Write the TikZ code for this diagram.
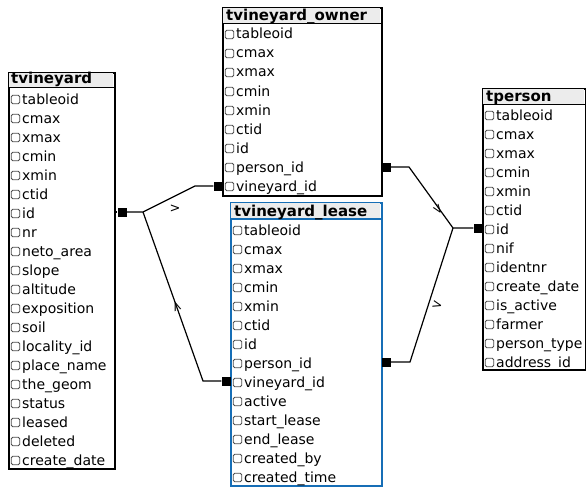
\documentclass[tikz,border=0pt]{standalone}
\usepackage{fontspec}
\setmainfont{DejaVu Sans}
\definecolor{leaseblue}{RGB}{22,110,182}
\definecolor{hdrgray}{RGB}{236,236,236}
\tikzset{
 box/.style={draw=black, line width=1.8pt, fill=white, inner sep=0, anchor=north west},
 chk/.style={draw=black!70, line width=0.8pt, rounded corners=1.5pt, minimum size=8.5pt, inner sep=0},
 fld/.style={anchor=base west, inner sep=0, font=\fontsize{14}{16}\selectfont},
 ttl/.style={anchor=base west, inner sep=0, font=\fontsize{15}{16}\selectfont\bfseries},
 conn/.style={fill=black, minimum size=9pt, inner sep=0},
 rel/.style={line width=1.2pt},
 mk/.style={font=\fontsize{13}{13}\selectfont, inner sep=0}
}
\begin{document}
\begin{tikzpicture}[x=1pt,y=-1pt]
\useasboundingbox (0,0) rectangle (586,487);
% ---------- tvineyard ----------
\node[box, minimum width=106pt, minimum height=396pt] (V) at (8,72) {};
\fill[hdrgray] (8.9,72.9) rectangle (113.1,87);
\draw[line width=1pt] (8,87) -- (114,87);
\node[ttl] (Vt) at (11,84) {tvineyard};
\foreach \f [count=\i from 0] in {tableoid,cmax,xmax,cmin,xmin,ctid,id,nr,neto\_area,slope,altitude,exposition,soil,locality\_id,place\_name,the\_geom,status,leased,deleted,create\_date}{
  \node[chk] (Vc\i) at (15.5,{99.5+19*\i}) {};
  \node[fld] (Vf\i) at (22,{104+19*\i}) {\f};
}
% ---------- tvineyard_owner ----------
\node[box, minimum width=159pt, minimum height=188pt] (O) at (222,7) {};
\fill[hdrgray] (222.9,7.9) rectangle (380.1,24);
\draw[line width=1pt] (222,24) -- (381,24);
\node[ttl] (Ot) at (226,21) {tvineyard\_owner};
\foreach \f [count=\i from 0] in {tableoid,cmax,xmax,cmin,xmin,ctid,id,person\_id,vineyard\_id}{
  \node[chk] (Oc\i) at (229.5,{34.5+19*\i}) {};
  \node[fld] (Of\i) at (236,{39+19*\i}) {\f};
}
% ---------- tvineyard_lease ----------
\node[box, draw=leaseblue, minimum width=151pt, minimum height=283pt] (L) at (230,202) {};
\fill[hdrgray] (230.9,202.9) rectangle (380.1,219);
\draw[line width=1.2pt, leaseblue] (230,219) -- (381,219);
\node[ttl] (Lt) at (234,216) {tvineyard\_lease};
\foreach \f [count=\i from 0] in {tableoid,cmax,xmax,cmin,xmin,ctid,id,person\_id,vineyard\_id,active,start\_lease,end\_lease,created\_by,created\_time}{
  \node[chk] (Lc\i) at (237.5,{230.5+19*\i}) {};
  \node[fld] (Lf\i) at (244,{235+19*\i}) {\f};
}
% ---------- tperson ----------
\node[box, minimum width=103pt, minimum height=281pt] (P) at (482,88) {};
\fill[hdrgray] (482.9,88.9) rectangle (584.1,104);
\draw[line width=1pt] (482,104) -- (585,104);
\node[ttl] (Pt) at (486,101) {tperson};
\foreach \f [count=\i from 0] in {tableoid,cmax,xmax,cmin,xmin,ctid,id,nif,identnr,create\_date,is\_active,farmer,person\_type,address\_id}{
  \node[chk] (Pc\i) at (489.5,{115.5+19*\i}) {};
  \node[fld] (Pf\i) at (496,{120+19*\i}) {\f};
}
% ---------- connectors: tvineyard side ----------
\node[conn] (Vs) at (122,212) {};
\node[conn] (Os) at (218,186) {};
\node[conn] (Ls) at (226,381) {};
\coordinate (Vb) at (143,212);
\coordinate (Vo) at (195,186);
\coordinate (Vl) at (203,381);
\draw[rel] (V.east |- Vs) -- (Vs);
\draw[rel] (Vs) -- (Vb) -- (Vo) -- (Os);
\draw[rel] (Vb) -- (Vl) -- (Ls);
\node[mk] (m1) at (175,209) {>};
\node[mk, rotate=110] (m2) at (177,307) {>};
% ---------- connectors: tperson side ----------
\node[conn] (Ps) at (478,228) {};
\node[conn] (Os2) at (386,167) {};
\node[conn] (Ls2) at (386,362) {};
\coordinate (Pb) at (453,228);
\coordinate (Po) at (409,167);
\coordinate (Pl) at (410,362);
\draw[rel] (Ps) -- (Pb) -- (Po) -- (Os2);
\draw[rel] (Pb) -- (Pl) -- (Ls2);
\node[mk, rotate=-54] (m3) at (438,210) {>};
\node[mk, rotate=-15] (m4) at (437,305) {>};
\end{tikzpicture}
\end{document}
